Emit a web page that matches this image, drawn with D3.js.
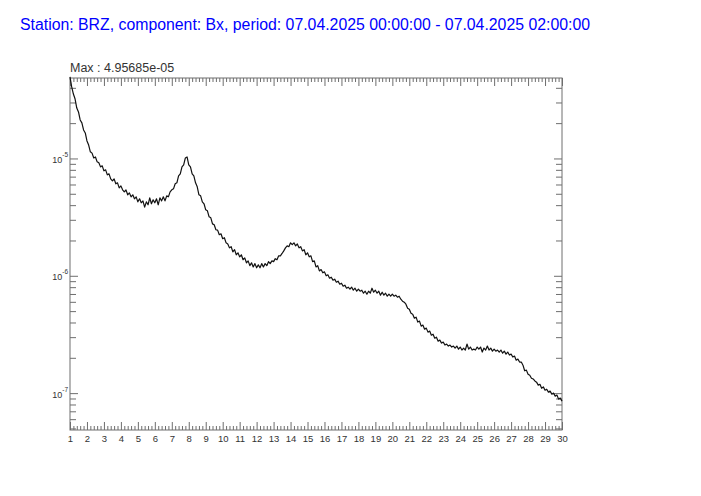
<!DOCTYPE html>
<html>
<head>
<meta charset="utf-8">
<script src="https://cdn.jsdelivr.net/npm/d3@7/dist/d3.min.js"></script>
<style>
  html, body { margin: 0; padding: 0; background: #ffffff; }
  svg { display: block; }
</style>
</head>
<body>
<svg id="chart" width="701" height="496"></svg>
<script>
// ---------------- data ----------------
const titleText = "Station: BRZ, component: Bx, period: 07.04.2025 00:00:00 - 07.04.2025 02:00:00";
const maxText = "Max : 4.95685e-05";
const xStart = 1;       // first frequency bin
const xStep = 0.1;      // bin spacing
const xTicks = d3.range(1, 31);                     // 1 .. 30
const yDecades = [1e-7, 1e-6, 1e-5];
const yDomain = [4.85e-8, 4.85e-5];
const xDomain = [1, 30];

// spectrum values (one per 0.1 step, x = 1 .. 30)
const psd = [
  4.96e-5, 4.07e-5, 3.54e-5, 3.21e-5, 2.69e-5, 2.49e-5, 2.13e-5, 2.01e-5, 1.75e-5, 1.65e-5,
  1.41e-5, 1.30e-5, 1.14e-5, 1.11e-5, 1.01e-5, 1.03e-5, 9.36e-6, 9.18e-6, 8.48e-6, 8.65e-6,
  7.84e-6, 8.00e-6, 7.25e-6, 7.39e-6, 6.70e-6, 6.45e-6, 6.70e-6, 6.08e-6, 6.20e-6, 5.62e-6,
  5.84e-6, 5.40e-6, 5.19e-6, 5.40e-6, 4.90e-6, 5.09e-6, 4.71e-6, 4.90e-6, 4.53e-6, 4.71e-6,
  4.27e-6, 4.53e-6, 4.19e-6, 4.35e-6, 3.85e-6, 4.27e-6, 4.03e-6, 4.62e-6, 4.11e-6, 4.44e-6,
  4.19e-6, 4.53e-6, 4.03e-6, 4.62e-6, 4.35e-6, 4.71e-6, 4.35e-6, 4.80e-6, 4.71e-6, 5.19e-6,
  5.40e-6, 5.51e-6, 6.08e-6, 6.20e-6, 7.11e-6, 7.39e-6, 8.48e-6, 8.82e-6, 1.01e-5, 1.03e-5,
  8.82e-6, 8.48e-6, 7.39e-6, 7.11e-6, 6.20e-6, 5.73e-6, 4.90e-6, 4.80e-6, 4.27e-6, 4.11e-6,
  3.65e-6, 3.58e-6, 3.18e-6, 3.12e-6, 2.77e-6, 2.72e-6, 2.47e-6, 2.45e-6, 2.24e-6, 2.28e-6,
  2.07e-6, 2.11e-6, 1.91e-6, 1.87e-6, 1.73e-6, 1.77e-6, 1.60e-6, 1.67e-6, 1.51e-6, 1.57e-6,
  1.45e-6, 1.51e-6, 1.37e-6, 1.42e-6, 1.29e-6, 1.34e-6, 1.22e-6, 1.29e-6, 1.19e-6, 1.27e-6,
  1.17e-6, 1.24e-6, 1.17e-6, 1.27e-6, 1.19e-6, 1.27e-6, 1.22e-6, 1.32e-6, 1.27e-6, 1.34e-6,
  1.32e-6, 1.40e-6, 1.37e-6, 1.48e-6, 1.48e-6, 1.55e-6, 1.63e-6, 1.73e-6, 1.80e-6, 1.77e-6,
  1.91e-6, 1.84e-6, 1.91e-6, 1.80e-6, 1.87e-6, 1.73e-6, 1.77e-6, 1.63e-6, 1.67e-6, 1.51e-6,
  1.57e-6, 1.45e-6, 1.48e-6, 1.32e-6, 1.34e-6, 1.19e-6, 1.22e-6, 1.10e-6, 1.13e-6, 1.06e-6,
  1.08e-6, 1.00e-6, 1.02e-6, 9.54e-7, 9.73e-7, 9.18e-7, 9.36e-7, 8.82e-7, 9.00e-7, 8.48e-7,
  8.65e-7, 8.16e-7, 8.32e-7, 7.84e-7, 8.00e-7, 7.69e-7, 8.00e-7, 7.54e-7, 7.84e-7, 7.39e-7,
  7.69e-7, 7.39e-7, 7.54e-7, 7.11e-7, 7.39e-7, 6.97e-7, 7.39e-7, 7.11e-7, 7.84e-7, 7.25e-7,
  7.54e-7, 7.11e-7, 7.39e-7, 6.84e-7, 7.25e-7, 6.84e-7, 7.11e-7, 6.70e-7, 6.97e-7, 6.70e-7,
  6.97e-7, 6.70e-7, 6.84e-7, 6.57e-7, 6.70e-7, 6.32e-7, 6.08e-7, 5.96e-7, 5.73e-7, 5.30e-7,
  5.19e-7, 4.80e-7, 4.71e-7, 4.35e-7, 4.44e-7, 4.03e-7, 4.11e-7, 3.72e-7, 3.80e-7, 3.51e-7,
  3.58e-7, 3.31e-7, 3.38e-7, 3.12e-7, 3.18e-7, 2.94e-7, 3.00e-7, 2.77e-7, 2.83e-7, 2.67e-7,
  2.72e-7, 2.57e-7, 2.62e-7, 2.52e-7, 2.57e-7, 2.47e-7, 2.52e-7, 2.42e-7, 2.52e-7, 2.37e-7,
  2.47e-7, 2.33e-7, 2.42e-7, 2.33e-7, 2.62e-7, 2.37e-7, 2.47e-7, 2.33e-7, 2.37e-7, 2.33e-7,
  2.47e-7, 2.37e-7, 2.47e-7, 2.24e-7, 2.42e-7, 2.33e-7, 2.52e-7, 2.33e-7, 2.42e-7, 2.28e-7,
  2.37e-7, 2.28e-7, 2.33e-7, 2.24e-7, 2.33e-7, 2.19e-7, 2.28e-7, 2.15e-7, 2.24e-7, 2.11e-7,
  2.15e-7, 2.03e-7, 2.07e-7, 1.91e-7, 1.95e-7, 1.84e-7, 1.84e-7, 1.73e-7, 1.55e-7, 1.57e-7,
  1.45e-7, 1.42e-7, 1.34e-7, 1.32e-7, 1.27e-7, 1.24e-7, 1.17e-7, 1.19e-7, 1.10e-7, 1.13e-7,
  1.06e-7, 1.08e-7, 1.02e-7, 1.04e-7, 9.80e-8, 1.00e-7, 9.43e-8, 9.62e-8, 8.89e-8, 9.07e-8,
  8.55e-8
];

// ---------------- drawing ----------------
const svg = d3.select("#chart");
const mLeft = 70, mRight = 562, mTop = 78, mBottom = 430;
const axisColor = "#6e6e6e";
const textColor = "#333333";

const x = d3.scaleLinear().domain(xDomain).range([mLeft, mRight]);
const y = d3.scaleLog().domain(yDomain).range([mBottom, mTop]);

svg.append("text")
  .attr("x", 20).attr("y", 30)
  .attr("fill", "#0000ff")
  .attr("font-family", "Liberation Sans, Arial, sans-serif")
  .attr("font-size", 16)
  .attr("textLength", 570)
  .attr("lengthAdjust", "spacingAndGlyphs")
  .text(titleText);

svg.append("text")
  .attr("x", 70).attr("y", 72)
  .attr("fill", textColor)
  .attr("font-family", "Liberation Sans, Arial, sans-serif")
  .attr("font-size", 12.5)
  .text(maxText);

// minor tick values
const xMinor = d3.range(1, 30.001, 0.2).filter(v => Math.abs(v - Math.round(v)) > 1e-6);
const yMinor = [];
[1e-8, 1e-7, 1e-6, 1e-5].forEach(d => {
  for (let k = 2; k <= 9; k++) {
    const v = k * d;
    if (v >= yDomain[0] && v <= yDomain[1]) yMinor.push(v);
  }
});

function styleAxis(g) {
  g.select(".domain").remove();
  g.selectAll("line").attr("stroke", axisColor).attr("stroke-width", 1);
}

// bottom axis
svg.append("g").attr("transform", `translate(0,${mBottom})`)
  .call(d3.axisBottom(x).tickValues(xMinor).tickSize(-4).tickFormat(""))
  .call(styleAxis);
const xb = svg.append("g").attr("transform", `translate(0,${mBottom})`)
  .call(d3.axisBottom(x).tickValues(xTicks).tickSize(-8).tickPadding(5).tickFormat(d3.format("d")))
  .call(styleAxis);
xb.selectAll("text")
  .attr("fill", textColor)
  .attr("font-family", "Liberation Sans, Arial, sans-serif")
  .attr("font-size", 9.5);

// top axis
svg.append("g").attr("transform", `translate(0,${mTop})`)
  .call(d3.axisTop(x).tickValues(xMinor).tickSize(-4).tickFormat(""))
  .call(styleAxis);
svg.append("g").attr("transform", `translate(0,${mTop})`)
  .call(d3.axisTop(x).tickValues(xTicks).tickSize(-8).tickFormat(""))
  .call(styleAxis);

// left axis
svg.append("g").attr("transform", `translate(${mLeft},0)`)
  .call(d3.axisLeft(y).tickValues(yMinor).tickSize(-6).tickFormat(""))
  .call(styleAxis);
const yl = svg.append("g").attr("transform", `translate(${mLeft},0)`)
  .call(d3.axisLeft(y).tickValues(yDecades).tickSize(-8).tickPadding(2).tickFormat(""))
  .call(styleAxis);
yl.selectAll(".tick text").each(function(d) {
  const t = d3.select(this)
    .attr("fill", textColor)
    .attr("font-family", "Liberation Sans, Arial, sans-serif")
    .attr("font-size", 9)
    .attr("dy", "0.45em");
  t.append("tspan").text("10");
  t.append("tspan").attr("font-size", 6.5).attr("dy", "-0.9em").text(String(Math.round(Math.log10(d))));
});

// right axis
svg.append("g").attr("transform", `translate(${mRight},0)`)
  .call(d3.axisRight(y).tickValues(yMinor).tickSize(-6).tickFormat(""))
  .call(styleAxis);
svg.append("g").attr("transform", `translate(${mRight},0)`)
  .call(d3.axisRight(y).tickValues(yDecades).tickSize(-8).tickFormat(""))
  .call(styleAxis);

// frame
svg.append("rect")
  .attr("x", mLeft).attr("y", mTop)
  .attr("width", mRight - mLeft).attr("height", mBottom - mTop)
  .attr("fill", "none").attr("stroke", axisColor).attr("stroke-width", 1);

// curve
const line = d3.line()
  .x((d, i) => x(xStart + i * xStep))
  .y(d => y(d));
svg.append("path")
  .datum(psd)
  .attr("d", line)
  .attr("fill", "none")
  .attr("stroke", "#111111")
  .attr("stroke-width", 1.2)
  .attr("stroke-linejoin", "round");
</script>
</body>
</html>
